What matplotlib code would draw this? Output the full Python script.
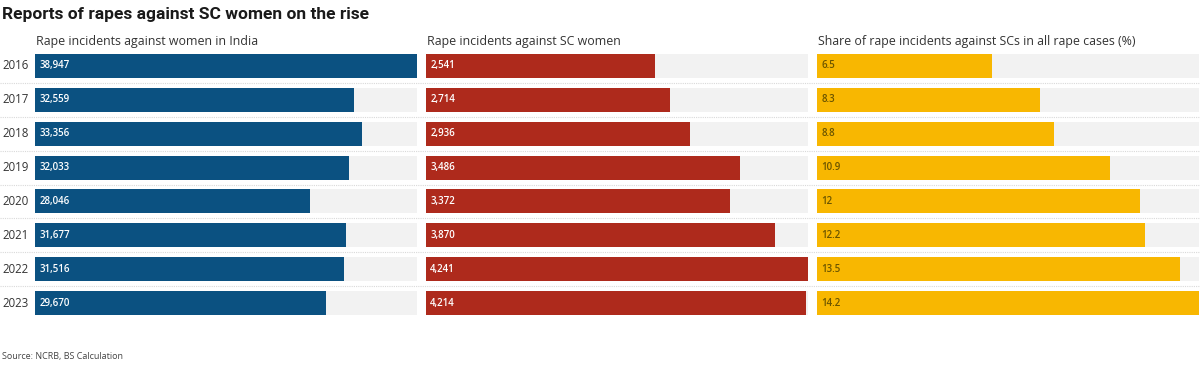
import matplotlib
matplotlib.use("Agg")
import matplotlib.pyplot as plt
from matplotlib.lines import Line2D

years = ["2016", "2017", "2018", "2019", "2020", "2021", "2022", "2023"]
rapes_women = [38947, 32559, 33356, 32033, 28046, 31677, 31516, 29670]
rapes_sc = [2541, 2714, 2936, 3486, 3372, 3870, 4241, 4214]
share_sc = [6.5, 8.3, 8.8, 10.9, 12, 12.2, 13.5, 14.2]

titles = ["Rape incidents against women in India",
          "Rape incidents against SC women",
          "Share of rape incidents against SCs in all rape cases (%)"]
labels1 = [f"{v:,}" for v in rapes_women]
labels2 = [f"{v:,}" for v in rapes_sc]
labels3 = [f"{v:g}" for v in share_sc]

body_font = "Open Sans"

W, H = 1200, 373
fig = plt.figure(figsize=(W / 100, H / 100), dpi=100)

panels = [
    (rapes_women, labels1, "#0b5181", "white", titles[0], 35),
    (rapes_sc, labels2, "#ae2a1c", "white", titles[1], 426),
    (share_sc, labels3, "#f8b701", "#6b5500", titles[2], 817),
]
pw = 382
top_px, bot_px = 49, 320

for vals, labs, col, tcol, ttl, x0 in panels:
    ax = fig.add_axes([x0 / W, 1 - bot_px / H, pw / W, (bot_px - top_px) / H])
    n = len(vals)
    ys = list(range(n))
    vmax = max(vals)
    ax.barh(ys, [vmax] * n, height=0.71, color="#f2f2f2", zorder=1)
    ax.barh(ys, vals, height=0.71, color=col, zorder=2)
    ax.set_xlim(0, vmax)
    ax.set_ylim(n - 0.5, -0.5)
    for y, lab in zip(ys, labs):
        ax.annotate(lab, (0, y), xytext=(3, 0), textcoords="offset points",
                    va="center", ha="left", color=tcol, fontsize=7,
                    family=body_font, fontweight="semibold", zorder=3)
    ax.axis("off")
    fig.text((x0 + 1) / W, 1 - 42 / H, ttl, fontsize=8.9, family=body_font,
             color="#333333", va="center", ha="left")

# year labels
row_h = (bot_px - top_px) / len(years)
for i, yr in enumerate(years):
    yc = top_px + row_h * (i + 0.5)
    fig.text(2 / W, 1 - yc / H, yr, fontsize=8.3, family=body_font,
             color="#333333", va="center", ha="left")
    if i < len(years) - 1:
        yl = 1 - (top_px + row_h * (i + 1)) / H
        fig.add_artist(Line2D([0, 1], [yl, yl], color="#d9d9d9", lw=0.8,
                              ls=(0, (1, 1)), transform=fig.transFigure))

fig.text(2 / W, 1 - 14 / H, "Reports of rapes against SC women on the rise",
         fontsize=12.5, fontweight="bold", family="Roboto", color="#1a1a1a",
         va="center", ha="left")
fig.text(2 / W, 1 - 357 / H, "Source: NCRB, BS Calculation", fontsize=6.5,
         family=body_font, color="#444444", va="center", ha="left")

fig.savefig("out.png", dpi=100, facecolor="white")
